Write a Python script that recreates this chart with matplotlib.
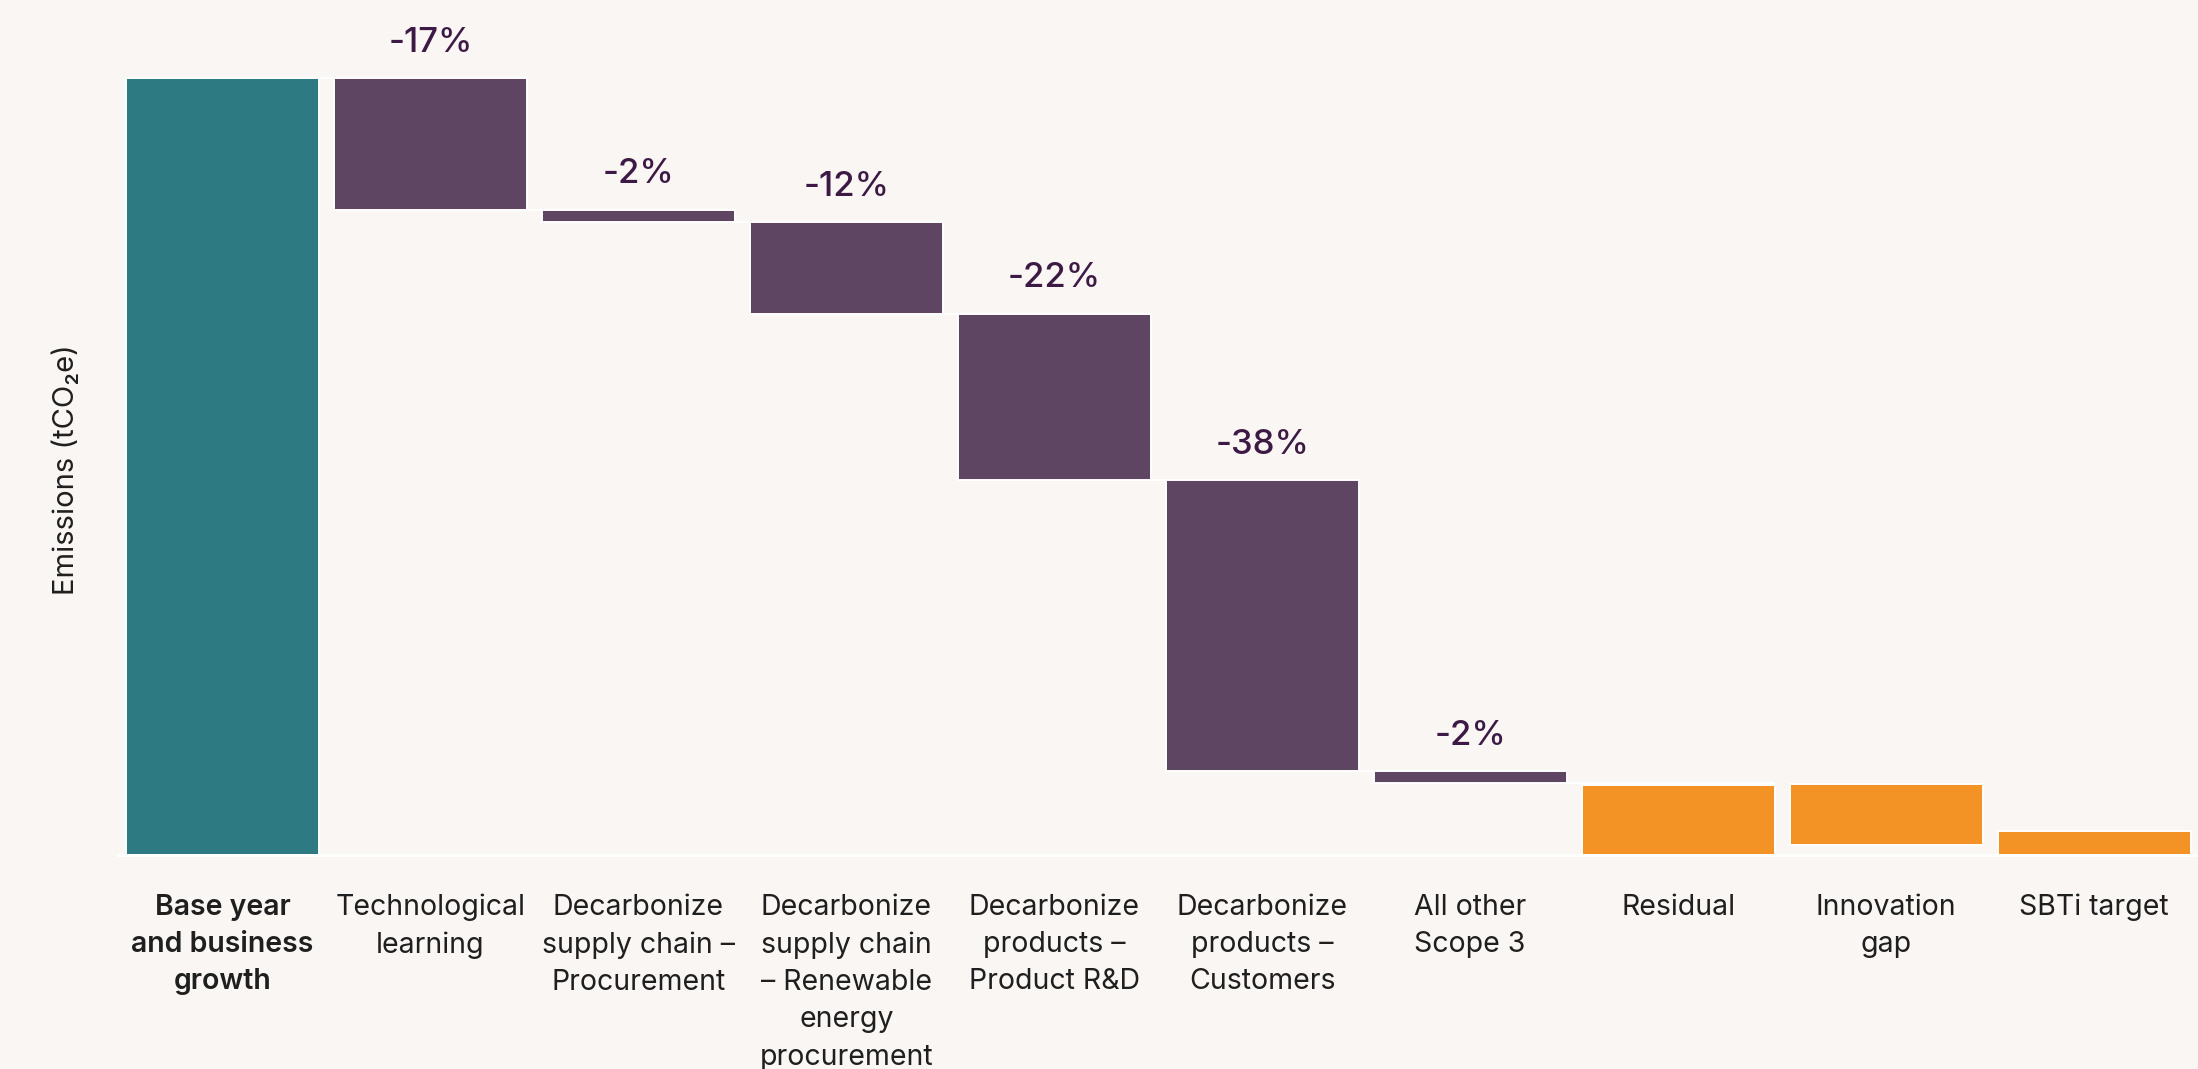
import matplotlib.pyplot as plt

plt.rcParams['font.family'] = ['Inter', 'DejaVu Sans']

# 数据
categories = ['Base year\nand business\ngrowth', 'Technological\nlearning',
              'Decarbonize\nsupply chain –\nProcurement',
              'Decarbonize\nsupply chain\n– Renewable\nenergy\nprocurement',
              'Decarbonize\nproducts –\nProduct R&D', 'Decarbonize\nproducts –\nCustomers',
              'All other\nScope 3', 'Residual', 'Innovation\ngap', 'SBTi target']
pct_labels = ['', '-17%', '-2%', '-12%', '-22%', '-38%', '-2%', '', '', '']
base_value = 100
reductions = [16.9, 1.6, 11.8, 21.4, 37.5, 1.5]
residual = 9.0
innovation_low = 1.3
innovation_high = 9.1
sbti_target = 3.1

bg = '#F9F6F3'
teal = '#2E7A83'
purple = '#5E4663'
orange = '#F39325'
label_col = '#3D1A45'

# 瀑布图: 计算每根柱子的底部和高度
bottoms = [0]
heights = [base_value]
colors = [teal]
level = base_value
for r in reductions:
    level -= r
    bottoms.append(level)
    heights.append(r)
    colors.append(purple)
bottoms += [0, innovation_low, 0]
heights += [residual, innovation_high - innovation_low, sbti_target]
colors += [orange, orange, orange]

fig = plt.figure(figsize=(21.98, 10.69), dpi=100, facecolor=bg)
ax = fig.add_axes([0.0539, 0.2002, 0.9461, 0.7998])
ax.set_facecolor(bg)

x = list(range(len(categories)))
width = 0.928
ax.bar(x, heights, bottom=bottoms, width=width, color=colors,
       edgecolor='white', linewidth=1.4, zorder=3)

# 白色连接线
for i in range(len(reductions)):
    lvl = bottoms[i + 1] + heights[i + 1]
    ax.hlines(lvl, i - width / 2, i + 1 + width / 2, color='white', linewidth=1.4, zorder=2)
    lvl2 = bottoms[i + 1]
    ax.hlines(lvl2, i + 1 - width / 2, i + 2 + width / 2, color='white', linewidth=1.4, zorder=2)

ax.axhline(0, color='white', linewidth=2, zorder=4, clip_on=False)

for i, lab in enumerate(pct_labels):
    if lab:
        ax.text(i, bottoms[i] + heights[i] + 3.4, lab, ha='center', va='baseline',
                fontsize=25, fontweight='medium', color=label_col)

ax.set_xlim(-0.5, len(categories) - 0.5)
ax.set_ylim(0, 110.1)
ax.set_xticks(x)
ax.set_xticklabels(categories, fontsize=20.5, linespacing=1.49, color='#1F1F1F')
ax.get_xticklabels()[0].set_fontweight('semibold')
ax.tick_params(axis='x', length=0, pad=28)
ax.set_yticks([])
for s in ax.spines.values():
    s.set_visible(False)

fig.text(66 / 2198, 1 - 470 / 1069, 'Emissions (tCO₂e)', rotation=90, ha='center',
         va='center', fontsize=21, color='#1F1F1F')

fig.savefig('out.png', dpi=100, facecolor=bg)
